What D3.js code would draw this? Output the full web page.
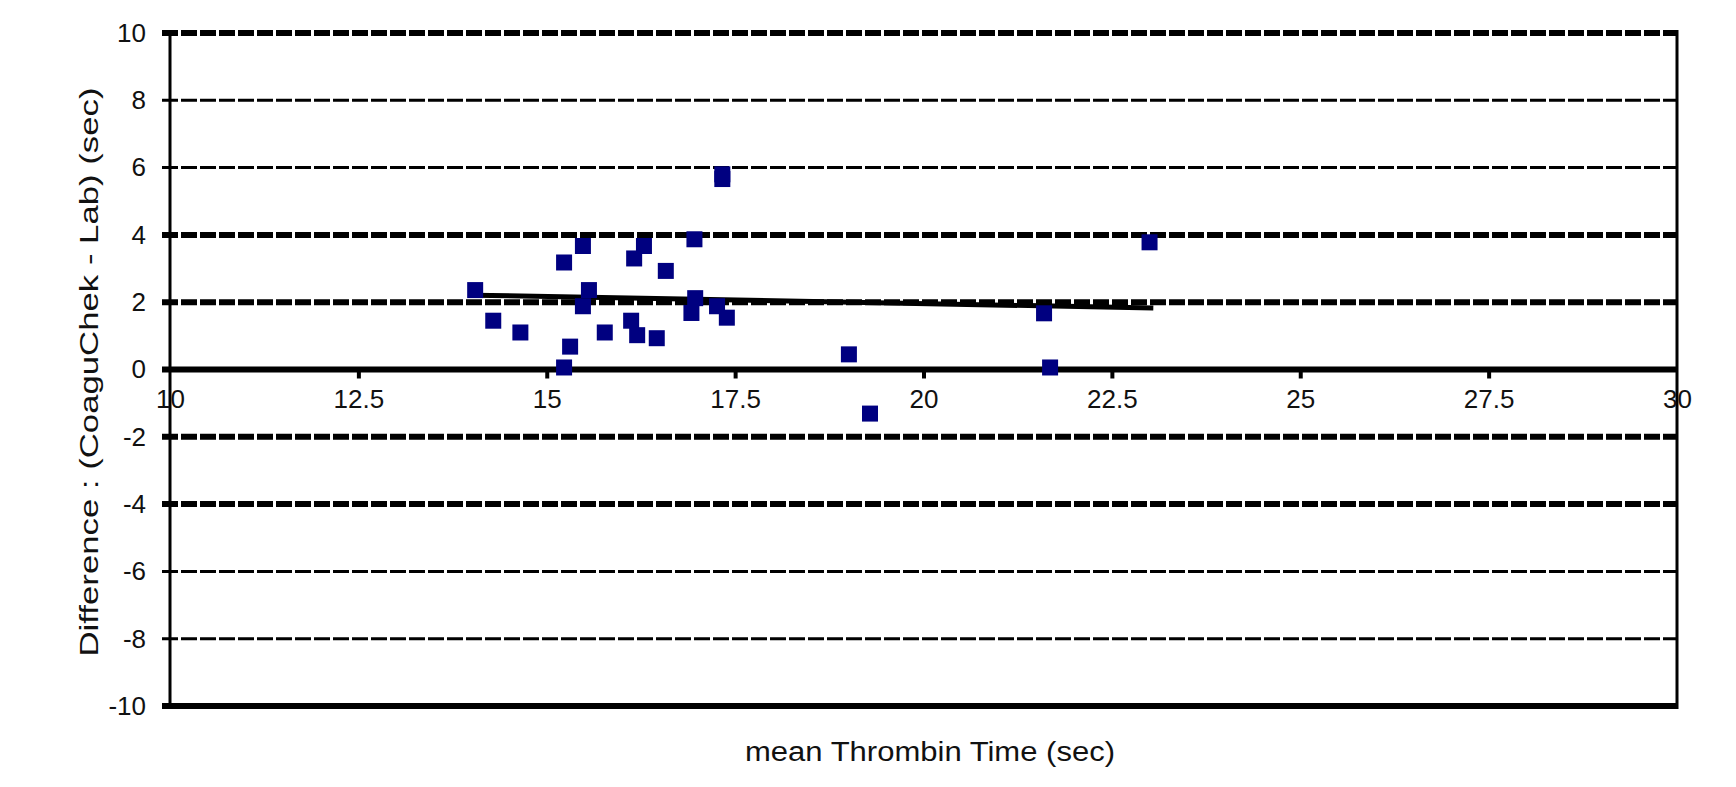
<!DOCTYPE html>
<html>
<head>
<meta charset="utf-8">
<script src="https://cdn.jsdelivr.net/npm/d3@7"></script>
<style>
  html, body { margin: 0; padding: 0; background: #ffffff; }
  svg { display: block; }
  text { font-family: "Liberation Sans", Arial, sans-serif; fill: #111; }
</style>
</head>
<body>
<svg id="chart" width="1736" height="787"></svg>
<script>
// ---- data ----
const meanTT = [14.05, 14.29, 14.65, 15.23, 15.23, 15.31, 15.48, 15.48, 15.56, 15.77,
                16.12, 16.16, 16.20, 16.29, 16.46, 16.58, 16.96, 16.97, 16.92, 17.26,
                17.39, 17.33, 17.33, 19.01, 19.29, 21.60, 21.68, 23.00];
const diffTT = [2.36, 1.45, 1.10, 3.18, 0.06, 0.68, 3.67, 1.88, 2.36, 1.10,
                1.45, 3.30, 1.02, 3.67, 0.93, 2.93, 3.87, 2.12, 1.68, 1.88,
                1.54, 5.80, 5.66, 0.45, -1.31, 1.67, 0.06, 3.78];
const trendX = [14.02, 23.05];
const trendY = [2.21, 1.83];
const xTicks = [10, 12.5, 15, 17.5, 20, 22.5, 25, 27.5, 30];
const xTickLabels = ["10", "12.5", "15", "17.5", "20", "22.5", "25", "27.5", "30"];
const yTicks = [-10, -8, -6, -4, -2, 0, 2, 4, 6, 8, 10];
const yTickLabels = ["-10", "-8", "-6", "-4", "-2", "0", "2", "4", "6", "8", "10"];
const xTitle = "mean Thrombin Time (sec)";
const yTitle = "Difference : (CoaguChek - Lab) (sec)";

// ---- layout ----
const L = 170, R = 1677, T = 33, B = 706;
const svg = d3.select("#chart");
const x = d3.scaleLinear().domain([10, 30]).range([L, R]);
const y = d3.scaleLinear().domain([-10, 10]).range([B, T]);

// horizontal grid lines (with left tick stubs)
const thick = v => (v === 2 || v === -2 || v === 4 || v === -4 || v === 10 || v === 0 || v === -10);
const solid = v => (v === 0 || v === -10);
svg.append("g").selectAll("line").data(yTicks).join("line")
  .attr("x1", L - 8).attr("x2", R)
  .attr("y1", d => y(d)).attr("y2", d => y(d))
  .attr("stroke", "#000")
  .attr("stroke-width", d => thick(d) ? 6 : 3)
  .attr("stroke-dasharray", d => solid(d) ? null : "16,3");

// left and right axis lines
svg.append("line").attr("x1", L).attr("x2", L).attr("y1", T - 3).attr("y2", B + 3)
  .attr("stroke", "#000").attr("stroke-width", 3);
svg.append("line").attr("x1", R).attr("x2", R).attr("y1", T - 3).attr("y2", B + 3)
  .attr("stroke", "#000").attr("stroke-width", 3);

// x axis at y = 0
const xAxis = d3.axisBottom(x).tickValues(xTicks)
  .tickFormat((d, i) => xTickLabels[i]).tickSize(9).tickPadding(11);
const gx = svg.append("g").attr("transform", `translate(0,${y(0)})`).call(xAxis);
gx.select(".domain").remove();
gx.selectAll(".tick line").attr("stroke", "#000").attr("stroke-width", 4)
  .attr("display", d => (d === 10 || d === 30) ? "none" : null);
gx.selectAll(".tick text").attr("font-size", 26)
  .attr("font-family", "Liberation Sans, Arial, sans-serif").attr("fill", "#222");

// y axis labels
const yAxis = d3.axisLeft(y).tickValues(yTicks)
  .tickFormat((d, i) => yTickLabels[i]).tickSize(0).tickPadding(24);
const gy = svg.append("g").attr("transform", `translate(${L},0)`).call(yAxis);
gy.select(".domain").remove();
gy.selectAll(".tick text").attr("font-size", 26)
  .attr("font-family", "Liberation Sans, Arial, sans-serif").attr("fill", "#222");

// trend line
const line = d3.line().x(d => x(d[0])).y(d => y(d[1]));
svg.append("path").datum(d3.zip(trendX, trendY))
  .attr("d", line).attr("fill", "none").attr("stroke", "#000").attr("stroke-width", 5);

// points
const sz = 16;
svg.append("g").selectAll("rect").data(d3.zip(meanTT, diffTT)).join("rect")
  .attr("x", d => x(d[0]) - sz / 2).attr("y", d => y(d[1]) - sz / 2)
  .attr("width", sz).attr("height", sz).attr("fill", "#000080");

// titles
svg.append("text").attr("x", 930).attr("y", 761).attr("text-anchor", "middle")
  .attr("font-size", 27).attr("textLength", 370).attr("lengthAdjust", "spacingAndGlyphs")
  .text(xTitle);
svg.append("text").attr("transform", "translate(98,372) rotate(-90)")
  .attr("text-anchor", "middle").attr("font-size", 25)
  .attr("textLength", 569).attr("lengthAdjust", "spacingAndGlyphs")
  .text(yTitle);
</script>
</body>
</html>
